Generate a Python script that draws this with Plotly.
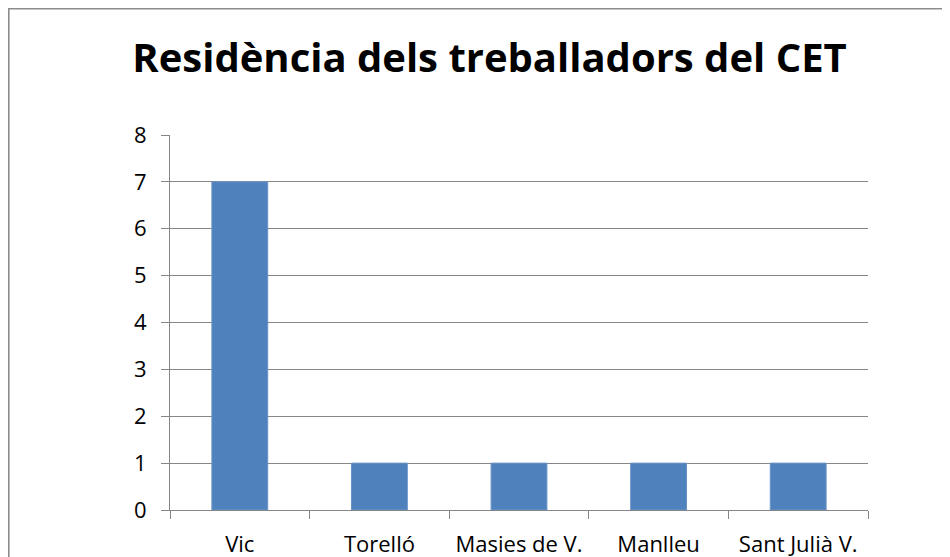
import plotly.graph_objects as go

categories = ["Vic", "Torelló", "Masies de V.", "Manlleu", "Sant Julià V."]
values = [7, 1, 1, 1, 1]
title_text = "Residència dels treballadors del CET"

# page has an 8px body margin; figure sized to the visible area
W, H = 942, 549
L, R, T, B = 162, 82, 127, 47
pw, ph = W - L - R, H - T - B

fig = go.Figure(go.Bar(
    x=categories, y=values,
    marker=dict(color="#4F81BD", line=dict(color="#6A93C8", width=1)),
    width=0.4,
))

fig.update_layout(
    width=W, height=H,
    margin=dict(l=L, r=R, t=T, b=B, autoexpand=False),
    paper_bgcolor="white", plot_bgcolor="white",
    showlegend=False,
    title=dict(text="<b>" + title_text + "</b>", xref="container", x=481.5 / W,
               xanchor="center", y=1 - 50 / H, yanchor="middle",
               font=dict(family="Open Sans", size=40, color="black")),
    font=dict(family="Open Sans", size=22, color="black"),
)
fig.update_xaxes(
    type="category", showgrid=False, showline=True, linecolor="#868686", linewidth=1,
    ticks="outside", tickson="boundaries", ticklen=8, tickcolor="#868686",
    tickfont=dict(size=22), ticklabelstandoff=15, automargin=False,
)
fig.update_yaxes(
    range=[0, 8], dtick=1, showgrid=True, gridcolor="#868686", gridwidth=1,
    showline=True, linecolor="#868686", linewidth=1, zeroline=False,
    ticks="outside", ticklen=8, tickcolor="#868686", tickfont=dict(size=22),
    ticklabelstandoff=10, automargin=False,
)
# chart frame (top and left edges visible)
fig.add_shape(type="rect", xref="paper", yref="paper",
              x0=(0.8 - L) / pw, x1=1.3,
              y0=-0.5, y1=(ph + T - 0.8) / ph,
              line=dict(color="#8C8C8C", width=1.6), layer="below")

fig.write_html("out.html")
